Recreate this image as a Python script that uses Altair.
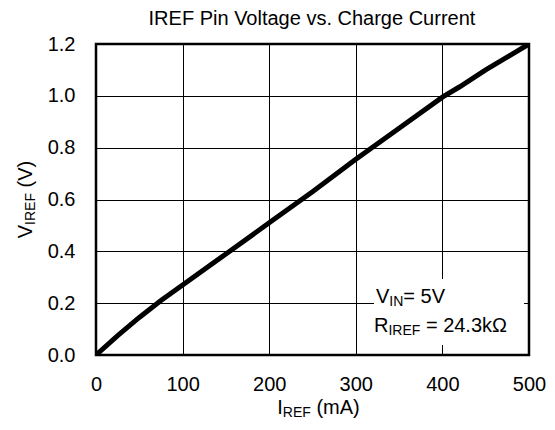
import altair as alt
import pandas as pd

# ---- data ----
current_ma = [0, 25, 50, 75, 100, 150, 200, 250, 300, 350, 400, 420, 450, 500]
v_iref = [0.0, 0.075, 0.145, 0.21, 0.27, 0.39, 0.51, 0.63, 0.755, 0.875, 0.995, 1.035, 1.10, 1.2]
x_ticks = [0, 100, 200, 300, 400, 500]
y_ticks = [0.0, 0.2, 0.4, 0.6, 0.8, 1.0, 1.2]

title_text = "IREF Pin Voltage vs. Charge Current"
x_title_parts = [("I", False), ("REF", True), (" (mA)", False)]
y_title_parts = [("V", False), ("IREF", True), (" (V)", False)]
note1_parts = [("V", False), ("IN", True), ("= 5V", False)]
note2_parts = [("R", False), ("IREF", True), (" = 24.3k\u03a9", False)]

FONT = "Liberation Sans"
W, H = 433, 311
FS, SFS, SUB_DY = 20, 14, 3

AW = {" ": 278, "(": 333, ")": 333, ".": 278, "=": 584, "A": 667, "C": 722,
      "E": 667, "F": 611, "I": 278, "N": 722, "R": 722, "V": 667, "k": 500,
      "m": 833, "P": 667, "i": 222, "n": 556, "o": 556, "l": 222, "t": 278,
      "a": 556, "g": 556, "e": 556, "v": 500, "s": 500, "h": 556, "r": 333,
      "u": 556, "\u03a9": 768}


def tw(s, fs):
    return sum(AW.get(c, 556) for c in s) * fs / 1000.0


def piece(txt, x, y, fs, angle=0):
    return alt.Chart(alt.Data(values=[{}])).mark_text(
        text=txt, font=FONT, fontSize=fs, align="left", baseline="alphabetic",
        angle=angle, color="black"
    ).encode(x=alt.value(x), y=alt.value(y))


def hlabel(parts, x, y, fs=FS, sfs=SFS, center=False):
    total = sum(tw(t, sfs if s else fs) for t, s in parts)
    cx = x - total / 2 if center else x
    out = []
    for t, s in parts:
        f = sfs if s else fs
        body = t.lstrip(" ")
        lead = tw(t[: len(t) - len(body)], f)
        out.append(piece(body, cx + lead, y + (SUB_DY if s else 0), f))
        cx += tw(t, f)
    return out


def vlabel(parts, x, ycenter, fs=FS, sfs=SFS):
    total = sum(tw(t, sfs if s else fs) for t, s in parts)
    cy = ycenter + total / 2
    out = []
    for t, s in parts:
        f = sfs if s else fs
        body = t.lstrip(" ")
        lead = tw(t[: len(t) - len(body)], f)
        out.append(piece(body, x + (SUB_DY if s else 0), cy - lead, f, angle=270))
        cy -= tw(t, f)
    return out


df = pd.DataFrame({"current": current_ma, "voltage": v_iref})

base = alt.Chart(df).encode(
    x=alt.X("current:Q", scale=alt.Scale(domain=[0, 500], nice=False),
            axis=alt.Axis(values=x_ticks, title=None, grid=True, gridColor="black",
                          gridWidth=1, gridOpacity=1, ticks=False, domain=False,
                          labelFont=FONT, labelFontSize=FS, labelColor="black",
                          labelPadding=19, labelFlush=False, labelOverlap=False)),
    y=alt.Y("voltage:Q", scale=alt.Scale(domain=[0, 1.2], nice=False),
            axis=alt.Axis(values=y_ticks, format=".1f", title=None, grid=True,
                          gridColor="black", gridWidth=1, gridOpacity=1, ticks=False,
                          domain=False, labelFont=FONT, labelFontSize=FS,
                          labelColor="black", labelPadding=21, labelFlush=False,
                          labelOverlap=False)),
)

line = base.mark_line(color="black", strokeWidth=5, clip=True)

box = alt.Chart(alt.Data(values=[{}])).mark_rect(fill="white").encode(
    x=alt.value(278), x2=alt.value(428), y=alt.value(235), y2=alt.value(301)
)

layers = [box, line]
layers.append(piece(title_text, W / 2 - tw(title_text, FS) / 2, -19, FS))
layers += hlabel(x_title_parts, W / 2 + 6, 370, center=True)
layers += vlabel(y_title_parts, -64, H / 2)
layers += hlabel(note1_parts, 280, 259, fs=20, sfs=14)
layers += hlabel(note2_parts, 278, 288, fs=20, sfs=14)

chart = alt.layer(*layers).properties(
    width=W, height=H,
    autosize=alt.AutoSizeParams(type="none"),
    padding={"left": 88, "top": 36, "right": 18, "bottom": 67},
).configure_view(stroke="black", strokeWidth=2.5)

chart.save("out.html", embed_options={"renderer": "svg", "actions": False})
